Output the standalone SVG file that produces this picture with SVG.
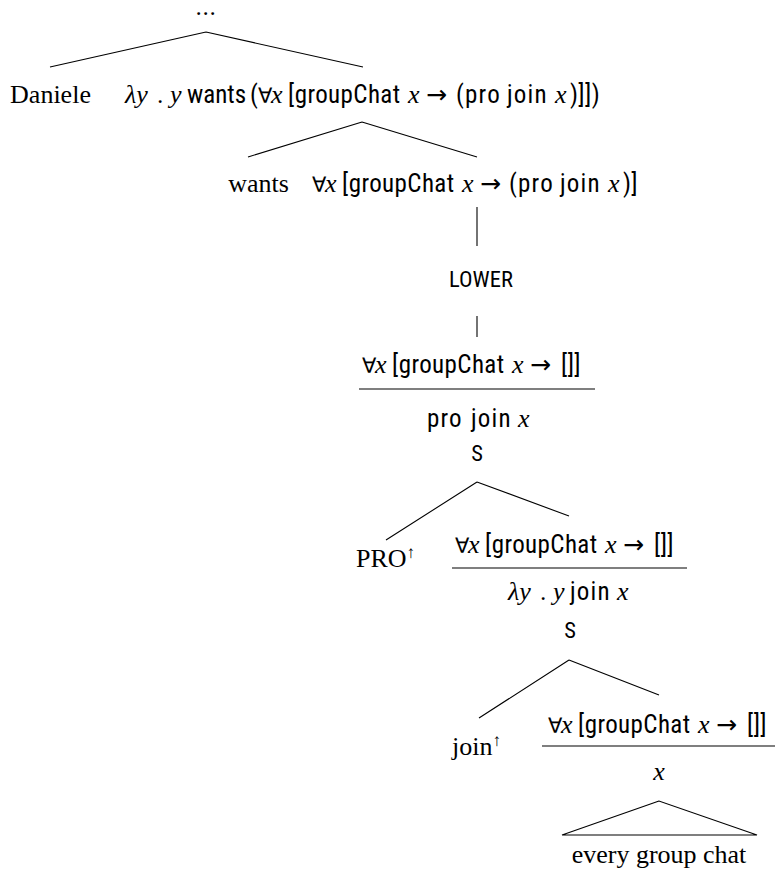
<svg xmlns="http://www.w3.org/2000/svg" width="775" height="884" viewBox="0 0 775 884">
<style>
  text { fill: #000; }
  .rm { font-family: "Liberation Serif", "DejaVu Serif", serif; font-size: 26px; }
  .sf { font-family: "Roboto Condensed", Roboto, sans-serif; font-size: 25px; letter-spacing: 0.4px; }
  .ls { letter-spacing: 1.2px; }
  .l0 { letter-spacing: 0; }
  .sc { font-family: "Roboto Condensed", Roboto, sans-serif; font-size: 22.5px; }
  .it { font-family: "Liberation Serif", "DejaVu Serif", serif; font-style: italic; font-size: 26px; letter-spacing: 0; }
  .ar { font-family: "DejaVu Sans", sans-serif; font-size: 25px; letter-spacing: 0; }
  .fa { font-family: "DejaVu Sans", sans-serif; font-size: 21px; letter-spacing: 0; }
  .up { font-family: "Liberation Serif", "DejaVu Serif", serif; font-size: 17px; }
  .c { text-anchor: middle; }
  .ln { stroke: #000; stroke-width: 1.1; fill: none; }
</style>
<rect width="775" height="884" fill="#fff"/>
<g id="edges">
  <path class="ln" d="M206 32 L50 67 M206 32 L363 67"/>
  <path class="ln" d="M362 122 L248 157 M362 122 L477 157"/>
  <path class="ln" d="M477 207 L477 246"/>
  <path class="ln" d="M477 316 L477 337"/>
  <path class="ln" d="M477 482 L386 540 M477 482 L569 516"/>
  <path class="ln" d="M569 660 L479 718 M569 660 L659 695"/>
  <path class="ln" d="M659 801 L562 835 L757 835 Z"/>
</g>
<g id="n-root"><text class="sf c" x="206" y="15">...</text></g>
<g id="n-daniele"><text class="rm c" x="50.5" y="103">Daniele</text></g>
<g id="n-vp1"><text class="sf" y="103"><tspan class="it" x="125">λy</tspan><tspan x="157">.</tspan><tspan class="it" x="170">y</tspan><tspan class="l0" x="187">wants</tspan><tspan x="250">(</tspan><tspan class="fa" x="258">∀</tspan><tspan class="it" x="271">x</tspan><tspan x="288">[groupChat</tspan><tspan class="it" x="408">x</tspan><tspan class="ar" x="426">→</tspan><tspan class="ls" x="456">(pro</tspan><tspan class="ls" x="507">join</tspan><tspan class="it" x="555">x</tspan><tspan x="570">)]])</tspan></text></g>
<g id="n-wants"><text class="rm c" x="258.5" y="192">wants</text></g>
<g id="n-lowered"><text class="sf" y="192"><tspan class="fa" x="312">∀</tspan><tspan class="it" x="325">x</tspan><tspan x="342">[groupChat</tspan><tspan class="it" x="462">x</tspan><tspan class="ar" x="480">→</tspan><tspan class="ls" x="509">(pro</tspan><tspan class="ls" x="560">join</tspan><tspan class="it" x="608">x</tspan><tspan x="623">)]</tspan></text></g>
<g id="n-lower"><text class="sc c" x="481" y="287">LOWER</text></g>
<g id="n-frac1">
  <text class="sf" y="373"><tspan class="fa" x="362">∀</tspan><tspan class="it" x="375">x</tspan><tspan x="392">[groupChat</tspan><tspan class="it" x="512">x</tspan><tspan class="ar" x="530">→</tspan><tspan x="561">[]]</tspan></text>
  <line class="ln" x1="359" y1="389" x2="595" y2="389"/>
  <text class="sf" y="427"><tspan class="ls" x="427">pro</tspan><tspan class="ls" x="471">join</tspan><tspan class="it" x="518">x</tspan></text>
  <text class="sc c" x="477" y="461">S</text>
</g>
<g id="n-pro"><text class="rm" x="356" y="567">PRO<tspan class="up" dy="-9">↑</tspan></text></g>
<g id="n-frac2">
  <text class="sf" y="553"><tspan class="fa" x="455">∀</tspan><tspan class="it" x="468">x</tspan><tspan x="485">[groupChat</tspan><tspan class="it" x="605">x</tspan><tspan class="ar" x="623">→</tspan><tspan x="654">[]]</tspan></text>
  <line class="ln" x1="452" y1="568" x2="687" y2="568"/>
  <text class="sf" y="600"><tspan class="it" x="508">λy</tspan><tspan x="540">.</tspan><tspan class="it" x="553">y</tspan><tspan class="ls" x="570">join</tspan><tspan class="it" x="617">x</tspan></text>
  <text class="sc c" x="570" y="638">S</text>
</g>
<g id="n-join"><text class="rm" x="452" y="755">join<tspan class="up" dy="-9">↑</tspan></text></g>
<g id="n-frac3">
  <text class="sf" y="733"><tspan class="fa" x="548">∀</tspan><tspan class="it" x="561">x</tspan><tspan x="578">[groupChat</tspan><tspan class="it" x="698">x</tspan><tspan class="ar" x="716">→</tspan><tspan x="747">[]]</tspan></text>
  <line class="ln" x1="542" y1="746" x2="775" y2="746"/>
  <text class="it c" x="659" y="780">x</text>
</g>
<g id="n-dp"><text class="rm c" x="659" y="863">every group chat</text></g>
</svg>
